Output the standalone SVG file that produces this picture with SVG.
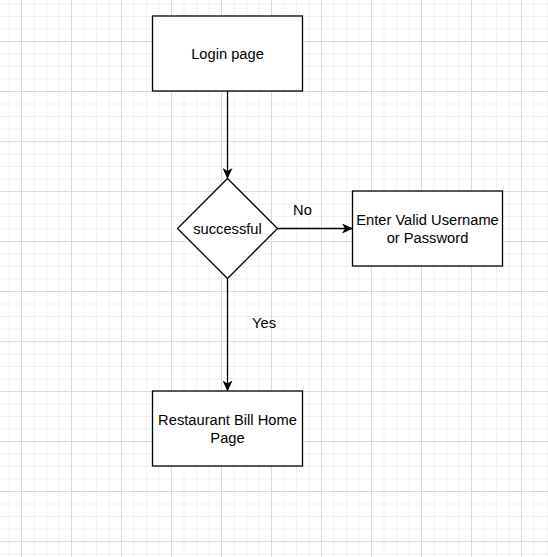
<svg xmlns="http://www.w3.org/2000/svg" width="548" height="557" viewBox="0 0 548 557">
<style>
.box{fill:#ffffff;stroke:#000000;stroke-width:1.3}
.lbl{font-family:"Liberation Sans",Arial,sans-serif;font-size:14.7px;fill:#000000;text-anchor:middle}
.edge{fill:none;stroke:#000000;stroke-width:1.3}
</style>
<defs>
<pattern id="grid" x="21" y="41" width="50" height="50" patternUnits="userSpaceOnUse">
<rect x="12.5" y="0" width="1" height="50" fill="#f1f1f1"/>
<rect x="25" y="0" width="1" height="50" fill="#f1f1f1"/>
<rect x="37.5" y="0" width="1" height="50" fill="#f1f1f1"/>
<rect x="0" y="12.5" width="50" height="1" fill="#f1f1f1"/>
<rect x="0" y="25" width="50" height="1" fill="#f1f1f1"/>
<rect x="0" y="37.5" width="50" height="1" fill="#f1f1f1"/>
<rect x="0" y="0" width="1" height="50" fill="#dadada"/>
<rect x="0" y="0" width="50" height="1" fill="#dadada"/>
</pattern>
<marker id="arr" viewBox="0 0 11 10" refX="10.5" refY="5" markerWidth="11" markerHeight="10" markerUnits="userSpaceOnUse" orient="auto">
<path d="M0,0 L11,5 L0,10 L3,5 Z" fill="#000000"/>
</marker>
</defs>
<rect width="548" height="557" fill="#ffffff"/>
<rect width="548" height="557" fill="url(#grid)"/>
<g id="connectors">
<line class="edge" x1="227.5" y1="91" x2="227.5" y2="178.5" marker-end="url(#arr)"/>
<line class="edge" x1="277.5" y1="228.5" x2="352.5" y2="228.5" marker-end="url(#arr)"/>
<line class="edge" x1="227.5" y1="278.5" x2="227.5" y2="391" marker-end="url(#arr)"/>
<text class="lbl" x="302.5" y="214.5">No</text>
<text class="lbl" x="264" y="327.7">Yes</text>
</g>
<g id="login">
<rect class="box" x="152.5" y="16" width="150" height="75"/>
<text class="lbl" x="227.5" y="59">Login page</text>
</g>
<g id="successful">
<polygon class="box" points="227.5,178.5 277.5,228.5 227.5,278.5 177.5,228.5"/>
<text class="lbl" x="227.5" y="233.8">successful</text>
</g>
<g id="invalid">
<rect class="box" x="352.5" y="191" width="150" height="75"/>
<text class="lbl" x="427.5" y="224.8">Enter Valid Username</text>
<text class="lbl" x="427.5" y="242.8">or Password</text>
</g>
<g id="home">
<rect class="box" x="152.5" y="391" width="150" height="75"/>
<text class="lbl" x="227.5" y="424.8">Restaurant Bill Home</text>
<text class="lbl" x="227.5" y="442.8">Page</text>
</g>
</svg>
